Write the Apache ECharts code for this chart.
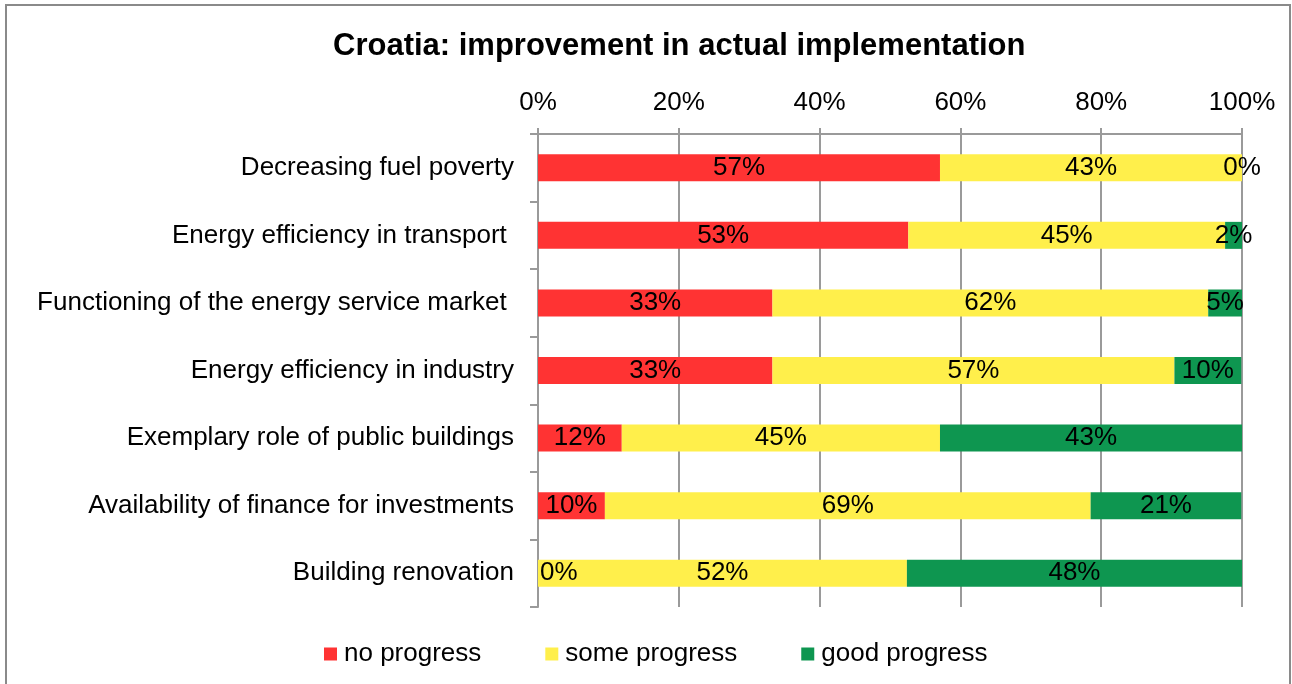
<!DOCTYPE html>
<html>
<head>
<meta charset="utf-8">
<script src="https://cdn.jsdelivr.net/npm/echarts@6/dist/echarts.min.js"></script>
<style>
html,body{margin:0;padding:0;background:#fff;}
#c{width:1292px;height:684px;}
</style>
</head>
<body>
<div id="c"></div>
<script>
const categories = [
  "Decreasing fuel poverty",
  "Energy efficiency in transport ",
  "Functioning of the energy service market ",
  "Energy efficiency in industry",
  "Exemplary role of public buildings",
  "Availability of finance for investments",
  "Building renovation"
];
const seriesNames = ["no progress", "some progress", "good progress"];
const noProgress = [57.1, 52.6, 33.3, 33.3, 11.9, 9.5, 0];
const someProgress = [42.9, 45.0, 61.9, 57.1, 45.2, 69.0, 52.4];
const goodProgress = [0, 2.4, 4.8, 9.5, 42.9, 21.4, 47.6];
const xTicks = [0, 20, 40, 60, 80, 100];

const colors = ['#FF3333', '#FFEF4B', '#0E9650'];
const FONT = '"Liberation Sans", Arial, sans-serif';

const chart = echarts.init(document.getElementById('c'), null, {renderer: 'canvas'});

function mkSeries(name, data, color) {
  return {
    name: name,
    type: 'bar',
    stack: 'total',
    barWidth: 27,
    itemStyle: {color: color},
    label: {
      show: true,
      position: 'inside',
      color: '#000',
      fontFamily: FONT,
      fontSize: 26,
      formatter: p => Math.round(p.value) + '%'
    },
    emphasis: {disabled: true},
    data: data.map((v, i) => {
      if (v === 0 && name === seriesNames[0]) {
        return {value: v, label: {position: 'insideLeft', distance: 2}};
      }
      return v;
    })
  };
}

chart.setOption({
  animation: false,
  backgroundColor: '#fff',
  textStyle: {fontFamily: FONT},
  title: {
    text: 'Croatia: improvement in actual implementation',
    left: 328,
    top: 26,
    textStyle: {fontFamily: FONT, fontSize: 31, fontWeight: 'bold', color: '#000'}
  },
  legend: {
    left: 319,
    top: 636,
    itemWidth: 13,
    itemHeight: 13,
    itemGap: 64,
    icon: 'rect',
    textStyle: {fontFamily: FONT, fontSize: 26, color: '#000', padding: [0, 0, 0, 2]},
    data: seriesNames
  },
  grid: {left: 538, right: 50, top: 134, bottom: 77, containLabel: false},
  xAxis: {
    type: 'value',
    position: 'top',
    min: 0,
    max: 100,
    interval: 20,
    axisLine: {show: true, lineStyle: {color: '#9a9a9a', width: 2}},
    axisTick: {show: true, length: 6, lineStyle: {color: '#9a9a9a', width: 2}},
    axisLabel: {
      margin: 18,
      fontFamily: FONT, fontSize: 26, color: '#000',
      formatter: v => (xTicks.includes(v) ? v + '%' : '')
    },
    splitLine: {show: true, lineStyle: {color: '#9a9a9a', width: 2}}
  },
  yAxis: {
    type: 'category',
    inverse: true,
    data: categories,
    axisLine: {show: true, lineStyle: {color: '#9a9a9a', width: 2}},
    axisTick: {show: true, length: 8, lineStyle: {color: '#9a9a9a', width: 2}},
    axisLabel: {margin: 24, fontFamily: FONT, fontSize: 26, color: '#000'},
    splitLine: {show: false}
  },
  graphic: [{
    type: 'rect',
    silent: true,
    z: -1,
    shape: {x: 6, y: 5, width: 1284, height: 700},
    style: {fill: 'none', stroke: '#8a8a8a', lineWidth: 2}
  }],
  series: [
    mkSeries(seriesNames[0], noProgress, colors[0]),
    mkSeries(seriesNames[1], someProgress, colors[1]),
    mkSeries(seriesNames[2], goodProgress, colors[2])
  ]
});
</script>
</body>
</html>
